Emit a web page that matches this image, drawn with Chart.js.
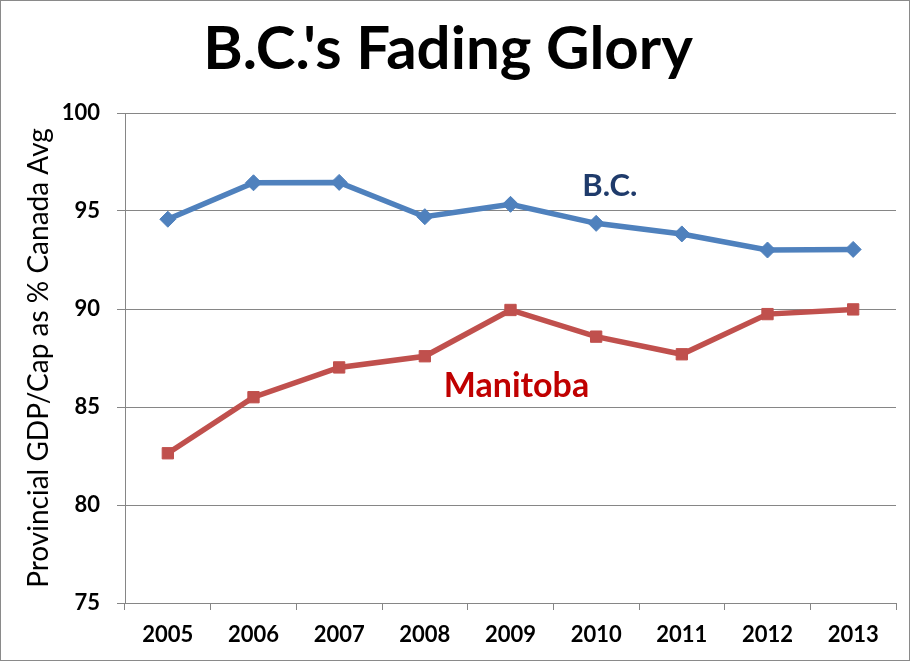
<!DOCTYPE html>
<html>
<head>
<meta charset="utf-8">
<script src="https://cdn.jsdelivr.net/npm/chart.js@4"></script>
<style>
  body { margin: 0; background: #fff; }
  canvas { display: block; }
</style>
</head>
<body>
<canvas id="chart" width="911" height="662"></canvas>
<script>
// years and values
const years = ['2005', '2006', '2007', '2008', '2009', '2010', '2011', '2012', '2013'];
const bcValues = [94.58, 96.44, 96.46, 94.71, 95.34, 94.37, 93.83, 93.01, 93.04];
const mbValues = [82.64, 85.5, 87.02, 87.59, 89.95, 88.59, 87.69, 89.74, 89.98];
const yTicks = [75, 80, 85, 90, 95, 100];

// series labels placed inside the plot (category index, value)
const seriesLabels = [
  { text: 'B.C.', x: 5.16, y: 96.28, color: '#1F3B6B', size: 31 },
  { text: 'Manitoba', x: 4.07, y: 86.07, color: '#C00000', size: 34 },
];

const FONT = 'Lato, "Open Sans", sans-serif';
const GRID = '#868686';

// white background + outer frame
const framePlugin = {
  id: 'frame',
  beforeDraw(chart) {
    const c = chart.ctx;
    c.save();
    c.fillStyle = '#fff';
    c.fillRect(0, 0, chart.width, chart.height);
    c.restore();
  },
  afterDraw(chart) {
    const c = chart.ctx;
    c.save();
    c.strokeStyle = '#8a8a8a';
    c.lineWidth = 1;
    c.strokeRect(0.5, 0.5, 909, 660);
    c.restore();
  }
};

// text labels for the two lines
const labelPlugin = {
  id: 'seriesLabels',
  afterDatasetsDraw(chart) {
    const c = chart.ctx;
    const xs = chart.scales.x, ys = chart.scales.y;
    c.save();
    c.textAlign = 'center';
    c.textBaseline = 'middle';
    seriesLabels.forEach(l => {
      c.font = 'bold ' + l.size + 'px ' + FONT;
      c.fillStyle = l.color;
      c.fillText(l.text, xs.getPixelForValue(l.x), ys.getPixelForValue(l.y));
    });
    c.restore();
  }
};

new Chart(document.getElementById('chart'), {
  type: 'line',
  data: {
    labels: years,
    datasets: [
      {
        label: 'B.C.',
        data: bcValues,
        borderColor: '#4F81BD',
        backgroundColor: '#4F81BD',
        borderWidth: 5.5,
        pointStyle: 'rectRot',
        pointRadius: 8,
        pointBorderWidth: 1,
        tension: 0,
      },
      {
        label: 'Manitoba',
        data: mbValues,
        borderColor: '#C0504D',
        backgroundColor: '#C0504D',
        borderWidth: 5.5,
        pointStyle: 'rect',
        pointRadius: 8,
        pointBorderWidth: 1,
        tension: 0,
      }
    ]
  },
  options: {
    responsive: false,
    animation: false,
    layout: { padding: { left: 0, right: 15, top: 0, bottom: 0 } },
    plugins: {
      legend: { display: false },
      tooltip: { enabled: false },
      title: {
        display: true,
        text: "B.C.'s Fading Glory",
        color: '#000',
        font: { family: FONT, size: 60, weight: 'bold' },
        padding: { top: 14, bottom: 27 },
      },
    },
    scales: {
      x: {
        offset: true,
        grid: { offset: true, drawOnChartArea: false, color: GRID, tickLength: 7 },
        border: { color: GRID },
        ticks: { color: '#000', font: { family: FONT, size: 22, weight: 'bold' }, padding: 12, maxRotation: 0 },
        afterFit(scale) { scale.height = 59; },
      },
      y: {
        min: 75,
        max: 100,
        afterBuildTicks(scale) { scale.ticks = yTicks.map(v => ({ value: v })); },
        grid: { color: GRID, tickLength: 8 },
        border: { color: GRID },
        ticks: { color: '#000', font: { family: FONT, size: 22, weight: 'bold' }, padding: 17 },
        title: {
          display: true,
          text: 'Provincial GDP/Cap as % Canada Avg',
          color: '#000',
          font: { family: FONT, size: 28 },
          padding: { top: 22, bottom: 0 },
        },
        afterFit(scale) { scale.width = 125; },
      }
    }
  },
  plugins: [framePlugin, labelPlugin]
});
</script>
</body>
</html>
